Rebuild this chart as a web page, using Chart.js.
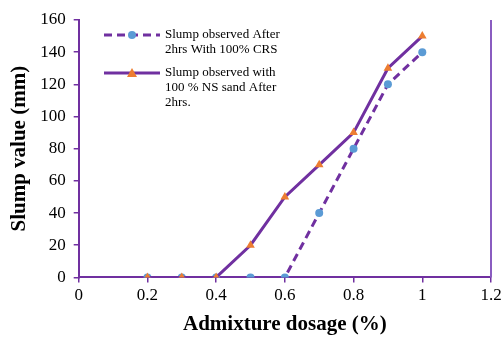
<!DOCTYPE html>
<html>
<head>
<meta charset="utf-8">
<script src="https://cdn.jsdelivr.net/npm/chart.js@4"></script>
<style>
  html, body { margin: 0; padding: 0; background: #fff; }
  #wrap { width: 503px; height: 337px; position: relative; }
</style>
</head>
<body>
<div id="wrap"><canvas id="c"></canvas></div>
<script>
const dosage = [0.2, 0.3, 0.4, 0.5, 0.6, 0.7, 0.8, 0.9, 1.0];
const slumpCRS = [0, 0, 0, 0, 0, 40, 80, 120, 140];
const slumpNS = [0, 0, 0, 20, 50, 70, 90, 130, 150];
const xTickLabels = ['0', '0.2', '0.4', '0.6', '0.8', '1', '1.2'];
const labelCRS = ['Slump observed After', '2hrs With 100% CRS'];
const labelNS = ['Slump observed with', '100 % NS sand After', '2hrs.'];

const purple = '#7030A0';
const serif = '"Liberation Serif", "Times New Roman", serif';

function toPoints(xs, ys) {
    return xs.map((x, i) => ({ x: x, y: ys[i] }));
}

// draws the right frame line and the legend inside the plot
const extras = {
    id: 'extras',
    afterDraw(chart) {
        const ctx = chart.ctx;
        const a = chart.chartArea;
        ctx.save();
        ctx.strokeStyle = '#8a5cc0';
        ctx.lineWidth = 2;
        ctx.beginPath();
        ctx.moveTo(a.right, a.top);
        ctx.lineTo(a.right, a.bottom);
        ctx.stroke();

        const entries = [
            { ds: chart.data.datasets[0], lines: labelCRS, y: 35 },
            { ds: chart.data.datasets[1], lines: labelNS, y: 73 }
        ];
        ctx.font = '13px ' + serif;
        ctx.textBaseline = 'middle';
        entries.forEach(e => {
            ctx.strokeStyle = e.ds.borderColor;
            ctx.lineWidth = 3;
            ctx.setLineDash(e.ds.borderDash || []);
            ctx.beginPath();
            ctx.moveTo(104, e.y);
            ctx.lineTo(160, e.y);
            ctx.stroke();
            ctx.setLineDash([]);
            ctx.fillStyle = e.ds.pointBackgroundColor;
            ctx.beginPath();
            if (e.ds.pointStyle === 'triangle') {
                ctx.moveTo(132, e.y - 5);
                ctx.lineTo(137, e.y + 4);
                ctx.lineTo(127, e.y + 4);
                ctx.closePath();
            } else {
                ctx.arc(132, e.y, 4, 0, Math.PI * 2);
            }
            ctx.fill();
            ctx.fillStyle = '#000';
            e.lines.forEach((t, i) => ctx.fillText(t, 165, e.y + i * 15));
        });
        ctx.restore();
    }
};

new Chart(document.getElementById('c'), {
    type: 'line',
    data: {
        datasets: [{
            label: labelCRS.join(' '),
            data: toPoints(dosage, slumpCRS),
            borderColor: purple,
            borderWidth: 3,
            borderDash: [8, 5],
            pointStyle: 'circle',
            pointRadius: 4,
            pointBorderWidth: 0,
            pointBackgroundColor: '#5B9BD5',
            pointBorderColor: '#5B9BD5',
            order: 2
        }, {
            label: labelNS.join(' '),
            data: toPoints(dosage, slumpNS),
            borderColor: purple,
            borderWidth: 3,
            pointStyle: 'triangle',
            pointRadius: 5,
            pointBorderWidth: 0,
            pointBackgroundColor: '#ED7D31',
            pointBorderColor: '#ED7D31',
            order: 1
        }]
    },
    options: {
        responsive: true,
        maintainAspectRatio: false,
        animation: false,
        layout: { padding: { top: 20, right: 8, left: 7, bottom: 0 } },
        plugins: {
            legend: { display: false },
            tooltip: { enabled: false }
        },
        scales: {
            x: {
                type: 'linear',
                min: 0,
                max: 1.2,
                afterFit: s => { s.paddingRight = 12; },
                ticks: {
                    stepSize: 0.2,
                    color: '#000',
                    font: { family: serif, size: 17 },
                    padding: 3,
                    callback: (v, i) => xTickLabels[i]
                },
                grid: { drawOnChartArea: false, drawTicks: true, tickLength: 5, color: purple, lineWidth: 1.5 },
                border: { display: true, color: purple, width: 2 },
                title: {
                    display: true,
                    text: 'Admixture dosage (%)',
                    color: '#000',
                    font: { family: serif, size: 21, weight: 'bold' },
                    padding: { top: 3, bottom: 0 }
                }
            },
            y: {
                min: 0,
                max: 160,
                ticks: {
                    stepSize: 20,
                    color: '#000',
                    font: { family: serif, size: 17 },
                    padding: 8
                },
                grid: { drawOnChartArea: false, drawTicks: true, tickLength: 5, color: purple, lineWidth: 1.5 },
                border: { display: true, color: purple, width: 2 },
                title: {
                    display: true,
                    text: 'Slump value (mm)',
                    color: '#000',
                    font: { family: serif, size: 21, weight: 'bold' },
                    padding: { top: 0, bottom: 0 }
                }
            }
        }
    },
    plugins: [extras]
});
</script>
</body>
</html>
